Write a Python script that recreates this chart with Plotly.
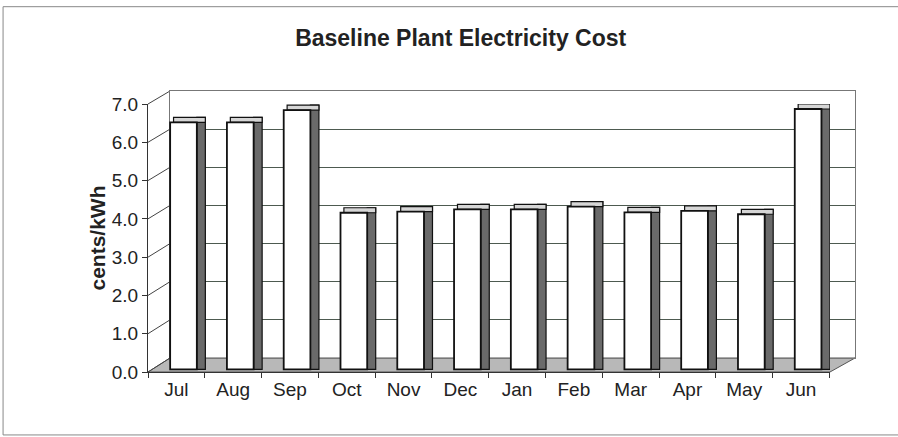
import plotly.graph_objects as go

months = ["Jul", "Aug", "Sep", "Oct", "Nov", "Dec", "Jan", "Feb", "Mar", "Apr", "May", "Jun"]
cost = [6.45, 6.45, 6.77, 4.09, 4.12, 4.18, 4.18, 4.25, 4.10, 4.14, 4.05, 6.80]
y_ticks = [0, 1, 2, 3, 4, 5, 6, 7]

# fake 3D look: front face sits slightly behind the axis, side/cap add depth
lift = 0.07
depth = 0.13
front_dom = 0.9537   # front y axis top (7.0) as paper fraction
back_lo = 0.0498     # back wall bottom as paper fraction
back_x0 = 0.0311     # back wall left as paper fraction
front_x1 = 0.9646    # front x axis right end

FONT = "Liberation Sans, Arial, sans-serif"

fig = go.Figure()

# back wall carrier (x/y subplot is drawn first, so it sits behind the bars)
fig.add_trace(go.Scatter(
    x=months, y=cost, mode="markers",
    marker=dict(opacity=0), hoverinfo="skip", showlegend=False,
))
# side face
fig.add_trace(go.Bar(
    x=months, y=[v + depth for v in cost], base=[lift] * len(cost),
    offset=0.36, width=0.15, xaxis="x2", yaxis="y2",
    marker=dict(color="#6a6a6a", line=dict(color="#111", width=1.2)),
    hoverinfo="skip", showlegend=False,
))
# top cap
fig.add_trace(go.Bar(
    x=months, y=[depth] * len(cost), base=[v + lift for v in cost],
    offset=-0.05, width=0.56, xaxis="x2", yaxis="y2",
    marker=dict(color="#d6d6d6", line=dict(color="#111", width=1.2)),
    hoverinfo="skip", showlegend=False,
))
# front face
fig.add_trace(go.Bar(
    x=months, y=cost, base=[lift] * len(cost),
    offset=-0.11, width=0.47, xaxis="x2", yaxis="y2",
    marker=dict(color="white", line=dict(color="#111", width=1.8)),
    showlegend=False,
))

shapes = []
# floor
shapes.append(dict(
    type="path", xref="paper", yref="paper", layer="below",
    path=f"M 0 0 L {front_x1} 0 L 1 {back_lo} L {back_x0} {back_lo} Z",
    fillcolor="#b8b8b8", line=dict(color="#555", width=1),
))
# connectors from the front axis ticks to the back wall
for t in y_ticks:
    shapes.append(dict(
        type="line", xref="paper", yref="paper", layer="below",
        x0=0, y0=front_dom * t / 7, x1=back_x0, y1=back_lo + (1 - back_lo) * t / 7,
        line=dict(color="#444", width=1),
    ))
# outer border (right side runs off the page like in the scan)
shapes.append(dict(
    type="rect", xref="paper", yref="paper",
    x0=-0.205, y0=-0.224, x1=1.2, y1=1.3,
    line=dict(color="#888", width=1),
))

fig.update_layout(
    width=898, height=437,
    margin=dict(l=148, r=43, t=91, b=65),
    paper_bgcolor="white", plot_bgcolor="rgba(0,0,0,0)",
    barmode="overlay",
    font=dict(family=FONT, size=19, color="#222"),
    title=dict(
        text="<b>Baseline Plant Electricity Cost</b>",
        x=0.513, xanchor="center", y=0.913, yanchor="middle",
        font=dict(family=FONT, size=23, color="#222"),
    ),
    # back wall
    xaxis=dict(
        domain=[back_x0, 1], anchor="y", type="category", categoryarray=months,
        showticklabels=False, ticks="", showgrid=False,
        showline=True, mirror=True, linecolor="#777", linewidth=1,
    ),
    yaxis=dict(
        domain=[back_lo, 1], anchor="x", range=[0, 7], tickvals=y_ticks,
        showticklabels=False, ticks="", showgrid=True, gridcolor="#4d5a50", gridwidth=1,
        zeroline=False, showline=True, mirror=True, linecolor="#777", linewidth=1,
    ),
    # front axes
    xaxis2=dict(
        domain=[0, front_x1], anchor="y2", type="category",
        categoryorder="array", categoryarray=months,
        tickson="boundaries", ticks="outside", ticklen=5, tickcolor="#333",
        showline=True, linecolor="#333", linewidth=1, showgrid=False,
        tickfont=dict(size=19),
    ),
    yaxis2=dict(
        domain=[0, front_dom], anchor="x2", range=[0, 7], tickvals=y_ticks, tickformat=".1f",
        ticks="outside", ticklen=5, tickcolor="#333",
        showline=True, linecolor="#333", linewidth=1, showgrid=False, zeroline=False,
        title=dict(text="<b>cents/kWh</b>", standoff=0, font=dict(size=21)),
        tickfont=dict(size=19),
    ),
    shapes=shapes,
)

# the page has a default 8px body margin; drop it so the chart sits at 0,0
fig.write_html(
    "out.html",
    config={"displayModeBar": False},
    post_script="document.body.style.margin='0';",
)
